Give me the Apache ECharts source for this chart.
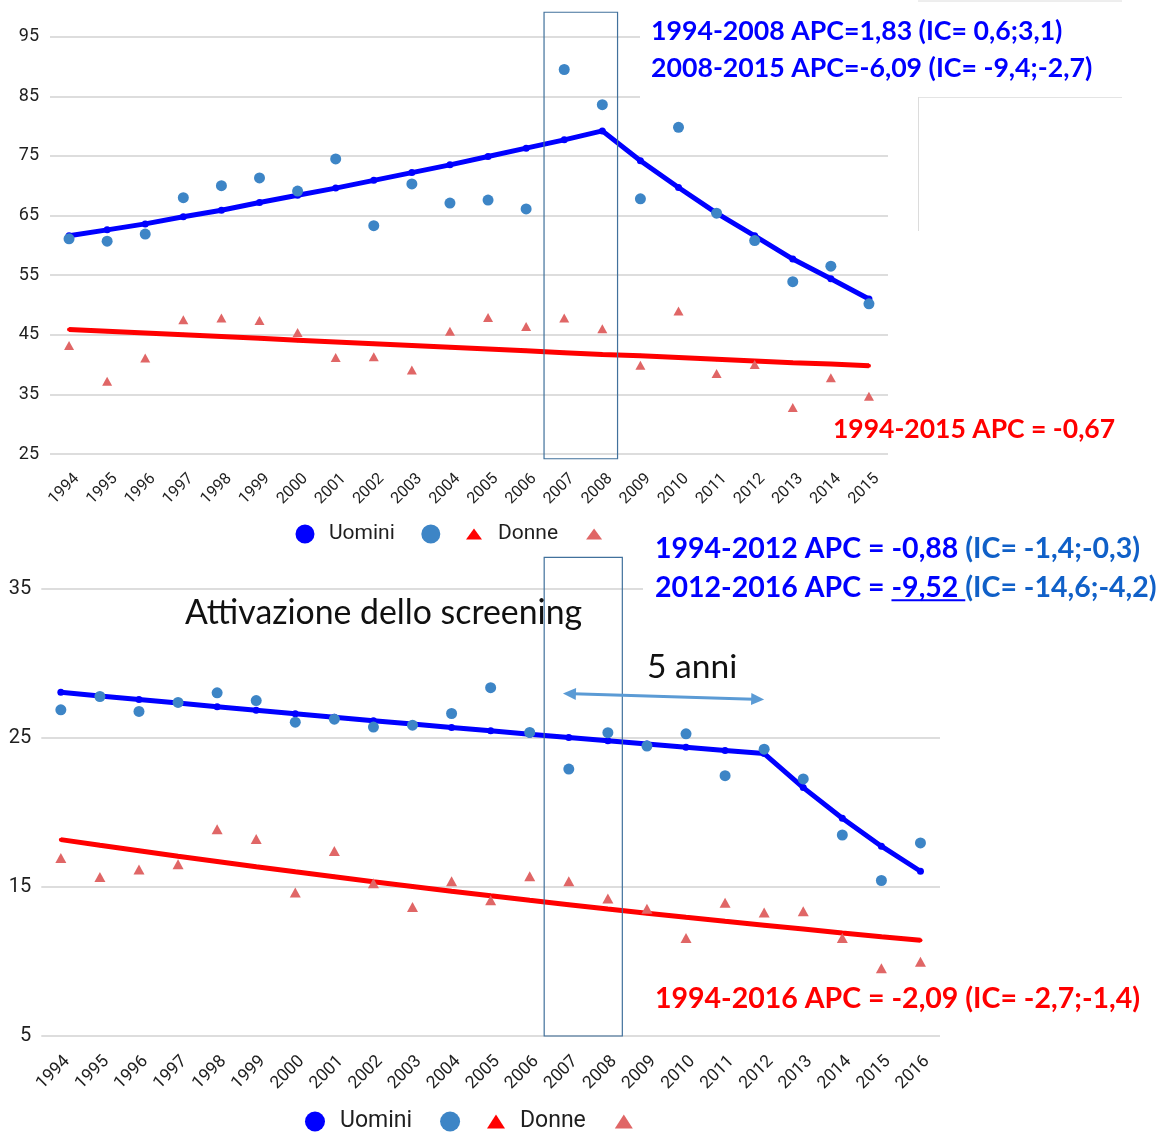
<!DOCTYPE html>
<html>
<head>
<meta charset="utf-8">
<script src="https://cdn.jsdelivr.net/npm/echarts@6/dist/echarts.min.js"></script>
<style>
  html, body { margin: 0; padding: 0; background: #ffffff; }
  #chart { width: 1176px; height: 1132px; }
</style>
</head>
<body>
<div id="chart"></div>
<script>
// Incidenza (tassi standardizzati) per sesso, con trend joinpoint

// Pannello superiore: 1994-2015
const yearsTop = ['1994','1995','1996','1997','1998','1999','2000','2001','2002','2003','2004',
                  '2005','2006','2007','2008','2009','2010','2011','2012','2013','2014','2015'];
const uominiTrendTop = [61.6, 62.6, 63.6, 64.8, 65.9, 67.2, 68.4, 69.6, 70.9, 72.2, 73.5,
                        74.9, 76.3, 77.7, 79.2, 74.2, 69.7, 65.4, 61.6, 57.7, 54.4, 51.0];
const uominiObsTop   = [61.1, 60.7, 61.9, 68.0, 70.0, 71.3, 69.1, 74.5, 63.3, 70.3, 67.1,
                        67.6, 66.1, 89.5, 83.6, 67.8, 79.8, 65.4, 60.8, 53.9, 56.5, 50.2];
const donneTrendTop  = [45.9, 45.6, 45.3, 45.0, 44.7, 44.4, 44.1, 43.8, 43.5, 43.2, 42.9,
                        42.6, 42.3, 42.0, 41.7, 41.5, 41.2, 40.9, 40.6, 40.3, 40.1, 39.8];
const donneObsTop    = [43.2, 37.2, 41.1, 47.5, 47.8, 47.4, 45.4, 41.2, 41.3, 39.1, 45.6,
                        47.9, 46.4, 47.8, 46.0, 39.9, 49.0, 38.5, 40.0, 32.8, 37.8, 34.7];
const yTicksTop = { min: 25, max: 95, step: 10 };

// Pannello inferiore: 1994-2016
const yearsBottom = ['1994','1995','1996','1997','1998','1999','2000','2001','2002','2003','2004',
                     '2005','2006','2007','2008','2009','2010','2011','2012','2013','2014','2015','2016'];
const uominiTrendBottom = [28.06, 27.81, 27.57, 27.33, 27.09, 26.85, 26.61, 26.38, 26.15, 25.92, 25.69,
                           25.47, 25.24, 25.02, 24.80, 24.58, 24.37, 24.15, 23.94, 21.66, 19.60, 17.73, 16.05];
const uominiObsBottom   = [26.88, 27.77, 26.77, 27.37, 28.02, 27.50, 26.05, 26.25, 25.72, 25.85, 26.63,
                           28.36, 25.36, 22.90, 25.34, 24.45, 25.27, 22.46, 24.24, 22.24, 18.48, 15.43, 17.95];
const donneTrendBottom  = [18.17, 17.79, 17.42, 17.05, 16.70, 16.35, 16.01, 15.68, 15.35, 15.03, 14.71,
                           14.40, 14.10, 13.81, 13.52, 13.24, 12.96, 12.69, 12.43, 12.17, 11.91, 11.66, 11.42];
const donneObsBottom    = [16.94, 15.67, 16.16, 16.52, 18.86, 18.22, 14.62, 17.41, 15.25, 13.66, 15.38,
                           14.11, 15.72, 15.38, 14.22, 13.53, 11.58, 13.93, 13.28, 13.37, 11.58, 9.55, 9.98];
const yTicksBottom = { min: 5, max: 35, step: 10 };

// Anni evidenziati e periodo indicato dalla freccia
const highlightFrom = '2007', highlightTo = '2008';
const arrowFrom = '2007', arrowTo = '2012';

const BLUE = '#0000ff', LIGHT_BLUE = '#3d85c6', RED = '#ff0000', LIGHT_RED = '#e06666';
const IC_BLUE = '#1060c8';
const GRID_GREY = '#d2d2d2';
const LABEL_GREY = '#1f1f1f';
const SERIES_NAMES = ['Uomini', 'Uomini (osservati)', 'Donne', 'Donne (osservate)'];

const chart = echarts.init(document.getElementById('chart'), null, { renderer: 'canvas' });

function xAxisFor(gridIndex, years, fontSize, margin, shift) {
  return {
    type: 'category', gridIndex, data: years, boundaryGap: true,
    axisLine: { show: false }, axisTick: { show: false }, splitLine: { show: false },
    axisLabel: {
      interval: 0, rotate: 45, margin, fontSize, color: LABEL_GREY, fontFamily: 'Roboto',
      padding: [0, -shift, 0, 0]
    }
  };
}
function yAxisFor(gridIndex, t, fontSize, margin) {
  return {
    type: 'value', gridIndex, min: t.min, max: t.max, interval: t.step,
    axisLine: { show: false }, axisTick: { show: false },
    axisLabel: { fontSize, margin, color: LABEL_GREY, fontFamily: 'Roboto' },
    splitLine: { lineStyle: { color: GRID_GREY, width: 1.5 } }
  };
}
function seriesFor(axisIndex, trendU, obsU, trendD, obsD, triSize) {
  const base = { xAxisIndex: axisIndex, yAxisIndex: axisIndex, animation: false, silent: true };
  return [
    Object.assign({}, base, {
      name: SERIES_NAMES[0], type: 'line', data: trendU, z: 3,
      symbol: 'circle', symbolSize: 7, showSymbol: true,
      itemStyle: { color: BLUE }, lineStyle: { color: BLUE, width: 5 }
    }),
    Object.assign({}, base, {
      name: SERIES_NAMES[1], type: 'scatter', data: obsU, z: 4,
      symbol: 'circle', symbolSize: 11, itemStyle: { color: LIGHT_BLUE, opacity: 1 }
    }),
    Object.assign({}, base, {
      name: SERIES_NAMES[2], type: 'line', data: trendD, z: 3,
      symbol: 'circle', symbolSize: 4, showSymbol: true,
      itemStyle: { color: RED }, lineStyle: { color: RED, width: 5 }
    }),
    Object.assign({}, base, {
      name: SERIES_NAMES[3], type: 'scatter', data: obsD, z: 4,
      symbol: 'triangle', symbolSize: triSize, itemStyle: { color: LIGHT_RED, opacity: 1 }
    })
  ];
}

// Legend icons padded inside a fixed box so every item keeps the same footprint
const circleIconTop = 'path://M0,0 M38,19 M19,0 A9.5,9.5 0 1,1 18.99,0 Z';
const circleIconBottom = 'path://M0,0 M40,20 M20,0 A10,10 0 1,1 19.99,0 Z';
const triIconTop = 'path://M0,0 M38,19 M19,4 L27,15 L11,15 Z';
const triIconBottom = 'path://M0,0 M38,20 M19,3 L28,17 L10,17 Z';
const legendText = name => (name.indexOf('(') >= 0 ? '' : name);
function legendFor(left, top, names, icon, w, h, gap, fontSize) {
  return {
    left, top, padding: 0, orient: 'horizontal', selectedMode: false,
    itemWidth: w, itemHeight: h, itemGap: gap, symbolKeepAspect: true,
    data: names.map(n => ({ name: n, icon })),
    formatter: legendText,
    textStyle: { fontSize, color: LABEL_GREY, fontFamily: 'Roboto', lineHeight: h }
  };
}

chart.setOption({
  animation: false,
  backgroundColor: '#ffffff',
  grid: [
    { left: 50, top: 36.7, width: 838, height: 417.3, containLabel: false },
    { left: 41.3, top: 588.7, width: 898.7, height: 447.3, containLabel: false }
  ],
  xAxis: [ xAxisFor(0, yearsTop, 16, 30, 11), xAxisFor(1, yearsBottom, 17.5, 29, 9) ],
  yAxis: [ yAxisFor(0, yTicksTop, 18, 11), yAxisFor(1, yTicksBottom, 20, 10) ],
  legend: [
    legendFor(286, 523.5, SERIES_NAMES.slice(0, 2), circleIconTop, 38, 19, 17, 21),
    legendFor(455, 523.5, SERIES_NAMES.slice(2, 4), triIconTop, 38, 19, 17, 21),
    legendFor(295, 1110, SERIES_NAMES.slice(0, 2), circleIconBottom, 40, 20, 18, 23),
    legendFor(477, 1110, SERIES_NAMES.slice(2, 4), triIconBottom, 38, 20, 19, 23)
  ],
  series: [
    ...seriesFor(0, uominiTrendTop, uominiObsTop, donneTrendTop, donneObsTop, [10, 9]),
    ...seriesFor(1, uominiTrendBottom, uominiObsBottom, donneTrendBottom, donneObsBottom, [11, 10])
  ]
});

// ---- annotations -------------------------------------------------------
const measureCtx = document.createElement('canvas').getContext('2d');
function textWidth(font, s) { measureCtx.font = font; return measureCtx.measureText(s).width; }

// A row of coloured text runs, left-aligned at x and vertically centred on y
function textRow(x, y, runs, size, weight, family) {
  const font = `${weight} ${size}px ${family}`;
  const els = [];
  let cx = x;
  runs.forEach(r => {
    const w = textWidth(font, r.t);
    els.push({
      type: 'text', x: cx, y, z: 20,
      style: { text: r.t, fill: r.c, font, textAlign: 'left', textVerticalAlign: 'middle',
               align: 'left', verticalAlign: 'middle' }
    });
    if (r.u) {
      els.push({
        type: 'line', z: 20,
        shape: { x1: cx, y1: y + size * 0.43, x2: cx + w, y2: y + size * 0.43 },
        style: { stroke: r.c, lineWidth: 2 }
      });
    }
    cx += w;
  });
  return els;
}

function toPx(gridIndex, catIndex, value) {
  return chart.convertToPixel({ gridIndex }, [catIndex, value]);
}

function highlightBox(gridIndex, years, yTop, yBottom, padLeft, padRight) {
  const i0 = years.indexOf(highlightFrom), i1 = years.indexOf(highlightTo);
  const a = toPx(gridIndex, i0, yTop), b = toPx(gridIndex, i1, yBottom);
  const step = b[0] - a[0];
  const x0 = a[0] - padLeft * step, x1 = b[0] + padRight * step;
  return {
    type: 'rect', z: 15,
    shape: { x: x0, y: a[1], width: x1 - x0, height: b[1] - a[1] },
    style: { fill: 'none', stroke: '#41719c', lineWidth: 1.2 }
  };
}

function doubleArrow(gridIndex, years, vFrom, vTo) {
  const i0 = years.indexOf(arrowFrom), i1 = years.indexOf(arrowTo);
  const p0 = toPx(gridIndex, i0, vFrom), p1 = toPx(gridIndex, i1, vTo);
  const step = toPx(gridIndex, i0 + 1, vFrom)[0] - p0[0];
  const x0 = p0[0] - 0.15 * step, y0 = p0[1], x1 = p1[0], y1 = p1[1];
  const dx = x1 - x0, dy = y1 - y0, len = Math.hypot(dx, dy);
  const ux = dx / len, uy = dy / len, nx = -uy, ny = ux;
  const head = 13, half = 6;
  const color = '#5b9bd5';
  return [
    { type: 'line', z: 18,
      shape: { x1: x0 + ux * head * 0.8, y1: y0 + uy * head * 0.8, x2: x1 - ux * head * 0.8, y2: y1 - uy * head * 0.8 },
      style: { stroke: color, lineWidth: 3 } },
    { type: 'polygon', z: 18,
      shape: { points: [[x0, y0], [x0 + ux * head + nx * half, y0 + uy * head + ny * half],
                        [x0 + ux * head - nx * half, y0 + uy * head - ny * half]] },
      style: { fill: color } },
    { type: 'polygon', z: 18,
      shape: { points: [[x1, y1], [x1 - ux * head + nx * half, y1 - uy * head + ny * half],
                        [x1 - ux * head - nx * half, y1 - uy * head - ny * half]] },
      style: { fill: color } }
  ];
}

const FAMILY = 'Lato';
const graphics = [
  // white text boxes over the upper grid lines
  { type: 'rect', z: 5, shape: { x: 640, y: 0, width: 536, height: 99 }, style: { fill: '#ffffff' } },
  { type: 'rect', z: 5, shape: { x: 643, y: 528, width: 533, height: 66 }, style: { fill: '#ffffff' } },
  // faint outline of the upper text box
  { type: 'line', z: 6, shape: { x1: 918, y1: 1, x2: 1122, y2: 1 }, style: { stroke: '#dcdcdc', lineWidth: 1 } },
  { type: 'line', z: 6, shape: { x1: 918, y1: 97.5, x2: 1122, y2: 97.5 }, style: { stroke: '#e4e4e4', lineWidth: 1 } },
  { type: 'line', z: 6, shape: { x1: 918.5, y1: 97, x2: 918.5, y2: 231 }, style: { stroke: '#dcdcdc', lineWidth: 1 } },

  highlightBox(0, yearsTop, 99.1, 24.2, 0.53, 0.40),
  highlightBox(1, yearsBottom, 37.1, 5, 0.63, 0.37),
  ...doubleArrow(1, yearsBottom, 27.97, 27.57),

  ...textRow(651, 31, [{ t: '1994-2008 APC=1,83 (IC= 0,6;3,1)', c: BLUE }], 26.7, 'bold', FAMILY),
  ...textRow(651, 68, [{ t: '2008-2015 APC=-6,09 (IC= -9,4;-2,7)', c: BLUE }], 26.7, 'bold', FAMILY),
  ...textRow(833, 429, [{ t: '1994-2015 APC = -0,67', c: RED }], 26.5, 'bold', FAMILY),

  ...textRow(655, 549, [{ t: '1994-2012 APC = -0,88 ', c: BLUE }, { t: '(IC= -1,4;-0,3)', c: IC_BLUE }], 28.5, 'bold', FAMILY),
  ...textRow(655, 588, [{ t: '2012-2016 APC = ', c: BLUE }, { t: '-9,52 ', c: BLUE, u: true },
                        { t: '(IC= -14,6;-4,2)', c: IC_BLUE }], 28.5, 'bold', FAMILY),
  ...textRow(655, 999, [{ t: '1994-2016 APC = -2,09 (IC= -2,7;-1,4)', c: RED }], 28.5, 'bold', FAMILY),

  ...textRow(185, 613, [{ t: 'Attivazione dello screening', c: '#111111' }], 33.8, 'normal', FAMILY),
  ...textRow(647, 667, [{ t: '5 anni', c: '#111111' }], 33.6, 'normal', FAMILY)
];

chart.setOption({ graphic: graphics });
</script>
</body>
</html>
